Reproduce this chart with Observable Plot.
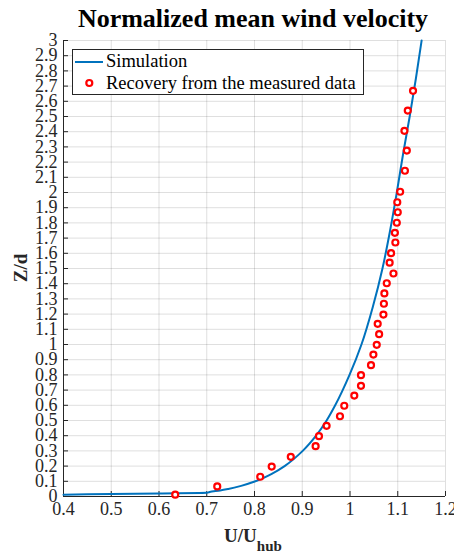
<!DOCTYPE html>
<html><head><meta charset="utf-8">
<script src="https://cdn.jsdelivr.net/npm/d3@7"></script>
<script src="https://cdn.jsdelivr.net/npm/@observablehq/plot@0.6"></script>
<style>body{margin:0;background:#fff} svg{display:block}</style>
</head><body><div id="chart"></div>
<script>
// Simulation curve
const simU = [0.40, 0.50, 0.60, 0.70, 0.706, 0.728, 0.745, 0.772, 0.802, 0.837, 0.863, 0.901, 0.929, 0.951, 0.969, 0.999, 1.024, 1.048, 1.068, 1.084, 1.098, 1.111, 1.125, 1.138, 1.150];
const simZ = [0.012, 0.016, 0.020, 0.024, 0.030, 0.040, 0.050, 0.070, 0.100, 0.150, 0.200, 0.300, 0.400, 0.500, 0.600, 0.800, 1.000, 1.250, 1.500, 1.750, 2.000, 2.250, 2.500, 2.750, 3.000];
// Recovery from the measured data
const measU = [0.634, 0.722, 0.812, 0.836, 0.876, 0.928, 0.935, 0.951, 0.979, 0.988, 1.009, 1.023, 1.023, 1.044, 1.049, 1.056, 1.061, 1.058, 1.070, 1.071, 1.072, 1.077, 1.091, 1.083, 1.086, 1.095, 1.094, 1.098, 1.100, 1.099, 1.105, 1.115, 1.119, 1.114, 1.121, 1.132];
const measZ = [0.012, 0.066, 0.130, 0.197, 0.261, 0.331, 0.397, 0.465, 0.528, 0.597, 0.664, 0.728, 0.798, 0.864, 0.934, 0.998, 1.068, 1.136, 1.197, 1.268, 1.336, 1.403, 1.467, 1.538, 1.601, 1.671, 1.735, 1.801, 1.870, 1.936, 2.005, 2.143, 2.276, 2.406, 2.539, 2.669];
// Tick values
const xTicks = [0.4, 0.5, 0.6, 0.7, 0.8, 0.9, 1.0, 1.1, 1.2];
const yTicks = [0, 0.1, 0.2, 0.3, 0.4, 0.5, 0.6, 0.7, 0.8, 0.9, 1.0, 1.1, 1.2, 1.3, 1.4, 1.5, 1.6, 1.7, 1.8, 1.9, 2.0, 2.1, 2.2, 2.3, 2.4, 2.5, 2.6, 2.7, 2.8, 2.9, 3.0];
const titleText = "Normalized mean wind velocity";
const xLabelMain = "U/U", xLabelSub = "hub", yLabel = "Z/d";
const legendLabels = ["Simulation", "Recovery from the measured data"];

const sim = simU.map((u, i) => ({u, z: simZ[i]}));
const meas = measU.map((u, i) => ({u, z: measZ[i]}));
const fmt = d => String(+d.toFixed(1));
const serif = "'Liberation Serif','Times New Roman',serif";
const blue = "#0072BD", axisCol = "#262626";

const chart = Plot.plot({
  width: 454, height: 557,
  marginLeft: 63, marginRight: 9, marginTop: 40, marginBottom: 61,
  style: {fontFamily: serif, fontSize: "18px", background: "white", color: axisCol},
  x: {domain: [xTicks[0], xTicks[xTicks.length - 1]]},
  y: {domain: [yTicks[0], yTicks[yTicks.length - 1]]},
  marks: [
    Plot.gridX(xTicks, {stroke: axisCol, strokeOpacity: 0.15}),
    Plot.gridY(yTicks, {stroke: axisCol, strokeOpacity: 0.15}),
    Plot.ruleX([xTicks[0]], {stroke: axisCol}),
    Plot.ruleY([yTicks[0]], {stroke: axisCol}),
    Plot.axisX(xTicks, {tickSize: -5, tickPadding: 11, tickFormat: fmt, label: null, fontSize: 18, fontFamily: serif}),
    Plot.axisY(yTicks, {tickSize: -5, tickPadding: 11, tickFormat: fmt, label: null, fontSize: 18, fontFamily: serif}),
    Plot.line(sim, {x: "u", y: "z", stroke: blue, strokeWidth: 2, curve: "monotone-y"}),
    Plot.dot(meas, {x: "u", y: "z", r: 3, stroke: "red", strokeWidth: 2.2, fill: "white"})
  ]
});
document.getElementById("chart").appendChild(chart);

const svg = d3.select(chart);
svg.append("text").attr("x", 253).attr("y", 27).attr("text-anchor", "middle")
  .attr("font-family", serif).attr("font-weight", "bold").attr("font-size", 26).attr("fill", "#000")
  .text(titleText);
const xl = svg.append("text").attr("x", 253).attr("y", 542).attr("text-anchor", "middle")
  .attr("font-family", serif).attr("font-weight", "bold").attr("font-size", 19).attr("fill", axisCol);
xl.append("tspan").text(xLabelMain);
xl.append("tspan").attr("dy", 9).attr("font-size", 15).text(xLabelSub);
svg.append("text").attr("transform", "translate(27,268) rotate(-90)").attr("text-anchor", "middle")
  .attr("font-family", serif).attr("font-weight", "bold").attr("font-size", 19).attr("fill", axisCol)
  .text(yLabel);

const lg = svg.append("g").attr("text-anchor", "start");
lg.append("rect").attr("x", 72.5).attr("y", 49.5).attr("width", 291).attr("height", 45)
  .attr("fill", "white").attr("stroke", axisCol).attr("stroke-width", 1);
lg.append("line").attr("x1", 75).attr("x2", 103).attr("y1", 62).attr("y2", 62)
  .attr("stroke", blue).attr("stroke-width", 2);
lg.append("circle").attr("cx", 89.3).attr("cy", 83).attr("r", 3)
  .attr("fill", "white").attr("stroke", "red").attr("stroke-width", 2.2);
lg.append("text").attr("x", 106).attr("y", 67).attr("text-anchor", "start").attr("font-family", serif).attr("font-size", 18.5).attr("fill", "#000").text(legendLabels[0]);
lg.append("text").attr("x", 106).attr("y", 89).attr("text-anchor", "start").attr("font-family", serif).attr("font-size", 18.5).attr("fill", "#000").text(legendLabels[1]);
</script>
</body></html>
